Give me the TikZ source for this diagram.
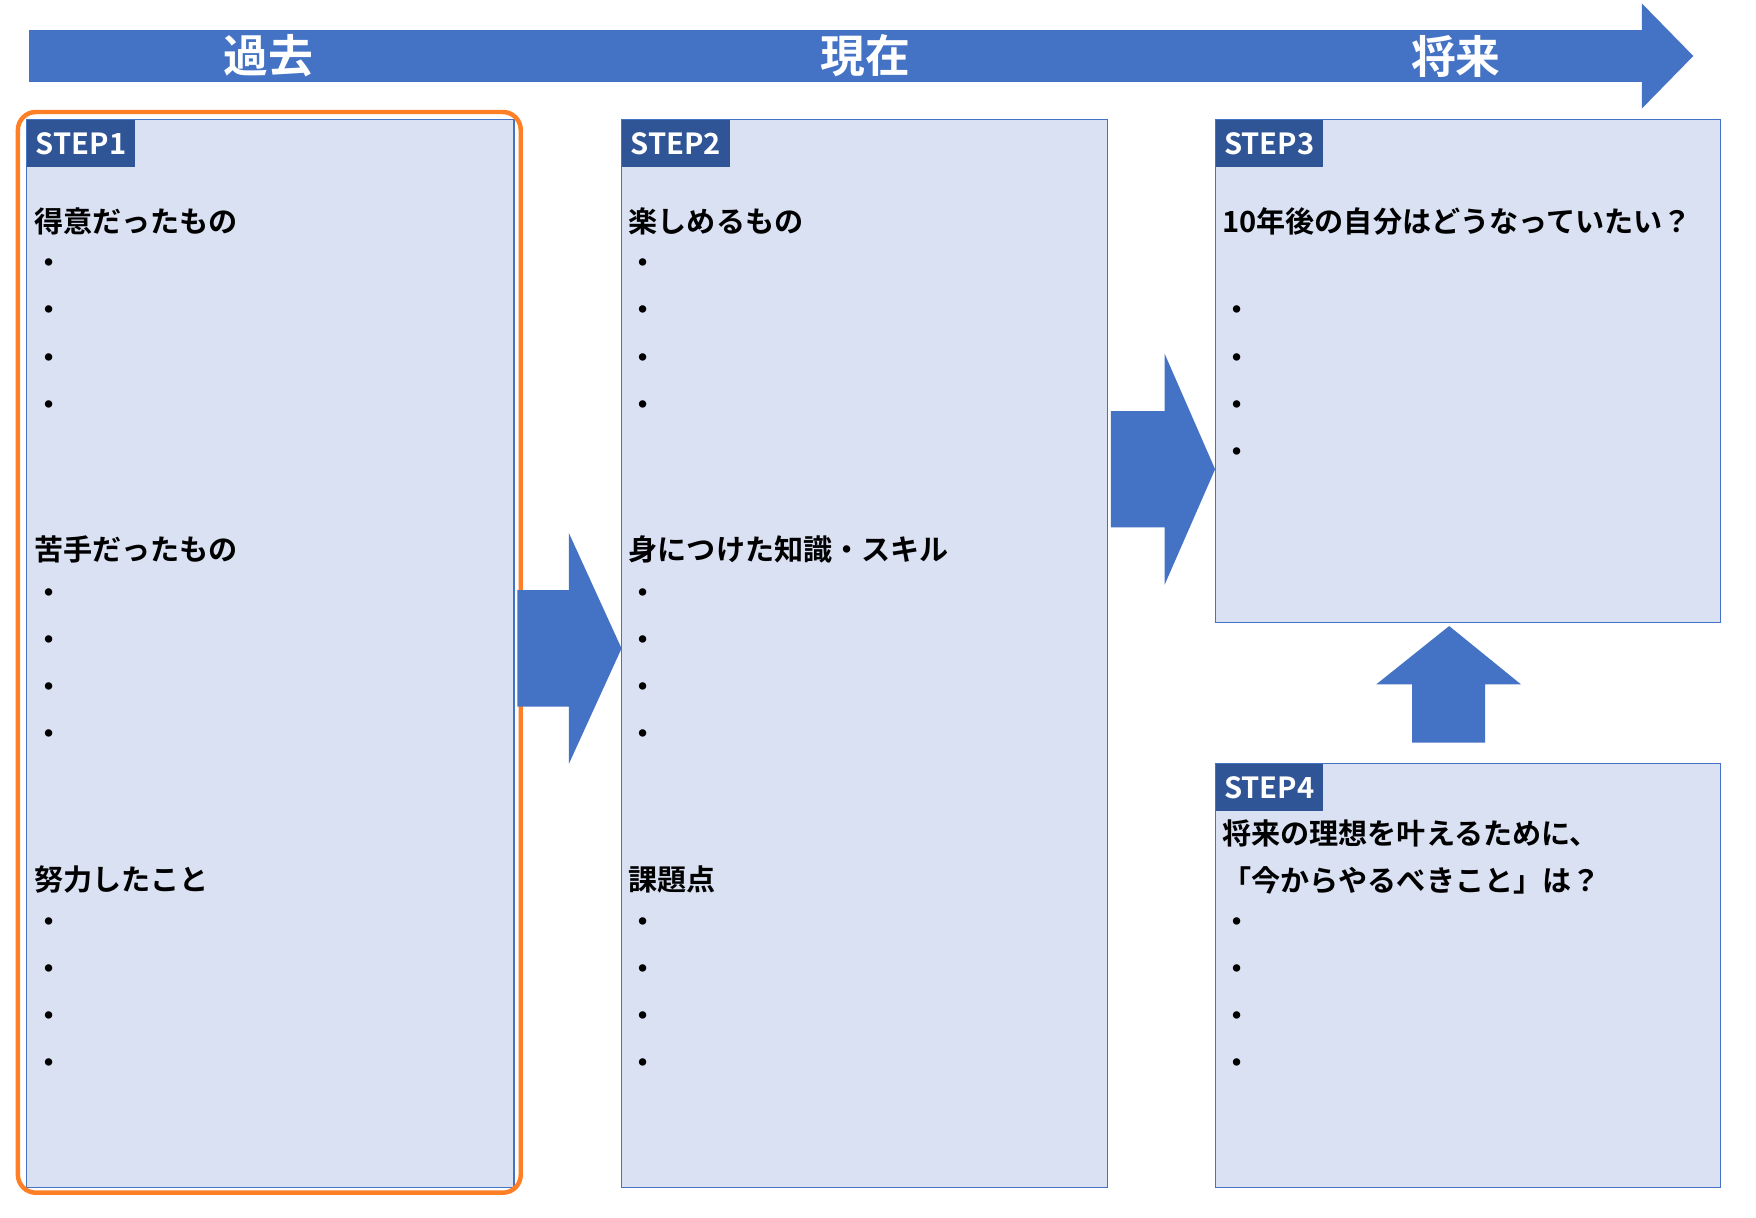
\documentclass[tikz,border=0pt]{standalone}
\usepackage{fontspec}
\setmainfont{Noto Sans CJK JP}
\newfontfamily\jpbold{Noto Sans CJK JP Bold}
\definecolor{arrowblue}{RGB}{68,114,196}
\definecolor{boxfill}{RGB}{218,225,243}
\definecolor{tagblue}{RGB}{47,85,151}
\definecolor{frameorange}{RGB}{255,127,39}
\tikzset{
  stepbox/.style={draw=arrowblue, fill=boxfill, line width=0.5pt},
  steptag/.style={fill=tagblue, text=white, anchor=north west, minimum width=48pt, minimum height=21pt, inner sep=0pt, font=\jpbold\fontsize{13pt}{15pt}\selectfont},
  heading/.style={anchor=west, inner sep=0pt, font=\jpbold\fontsize{13pt}{15pt}\selectfont},
  bullet/.style={anchor=west, inner sep=0pt, font=\jpbold\fontsize{13pt}{15pt}\selectfont},
  era/.style={text=white, font=\jpbold\fontsize{20pt}{22pt}\selectfont},
  bigarrow/.style={fill=arrowblue, draw=none}
}
\begin{document}
\begin{tikzpicture}[x=0.5pt,y=-0.5pt]
\useasboundingbox (0,0) rectangle (1568,1087);
\fill[white] (0,0) rectangle (1568,1087);

% time arrow
\fill[bigarrow] (26,27) -- (1466,27) -- (1466,3) -- (1512,50) -- (1466,97) -- (1466,73) -- (26,73) -- cycle;
\node[era] (past) at (240,50) {過去};
\node[era] (now) at (773,50) {現在};
\node[era] (future) at (1300,50) {将来};

% boxes
\draw[stepbox] (24,107) rectangle (459,1060);
\draw[stepbox] (555,107) rectangle (989,1060);
\draw[stepbox] (1085,107) rectangle (1536,556);
\draw[stepbox] (1085,682) rectangle (1536,1060);
\draw[frameorange, line width=2pt, rounded corners=8pt] (16,100) rectangle (465,1065);

% block arrows
\fill[bigarrow] (462,527) -- (508,527) -- (508,476) -- (555,579) -- (508,682) -- (508,631) -- (462,631) -- cycle;
\fill[bigarrow] (992,367) -- (1040,367) -- (1040,316) -- (1085,419) -- (1040,522) -- (1040,471) -- (992,471) -- cycle;
\fill[bigarrow] (1261,663) -- (1261,611) -- (1229,611) -- (1294,559) -- (1358,611) -- (1326,611) -- (1326,663) -- cycle;

% tags
\node[steptag] (s1) at (24,107) {STEP1};
\node[steptag] (s2) at (555,107) {STEP2};
\node[steptag] (s3) at (1085,107) {STEP3};
\node[steptag] (s4) at (1085,682) {STEP4};

% step1
\node[heading] (good) at (30,198) {得意だったもの};
\node[heading] (bad) at (30,491) {苦手だったもの};
\node[heading] (effort) at (30,785) {努力したこと};
% step2
\node[heading] (fun) at (561,198) {楽しめるもの};
\node[heading] (skill) at (561,491) {身につけた知識・スキル};
\node[heading] (issue) at (561,785) {課題点};
% step3, step4
\node[heading] (tenyr) at (1091,198) {10年後の自分はどうなっていたい？};
\node[heading] (ideal) at (1091,744) {将来の理想を叶えるために、};
\node[heading] (todo) at (1091,786) {「今からやるべきこと」は？};

\foreach \y in {238,280,322,364,532,574,616,658,826,868,910,952}{
  \node[bullet] at (30,\y) {・};
  \node[bullet] at (561,\y) {・};
}
\foreach \y in {280,322,364,406,826,868,910,952}
  \node[bullet] at (1091,\y) {・};
\end{tikzpicture}
\end{document}
